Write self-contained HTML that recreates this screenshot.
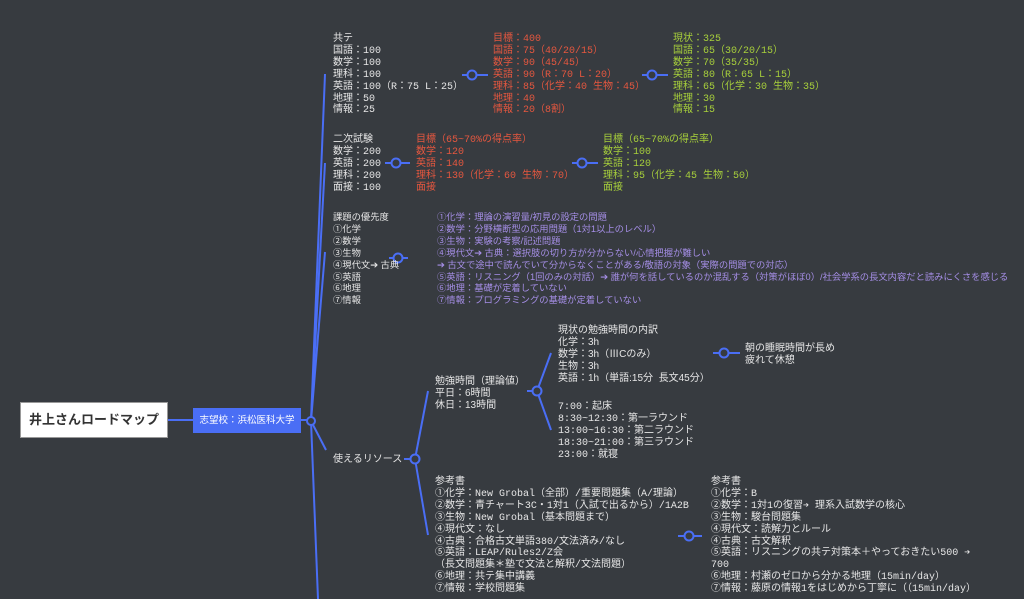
<!DOCTYPE html>
<html><head><meta charset="utf-8"><style>
html,body{margin:0;padding:0}
body{width:1024px;height:599px;background:#373b40;position:relative;overflow:hidden;font-family:"Liberation Mono","Noto Sans CJK JP",monospace;font-size:10px;line-height:11.9px;color:#e6e6e6}
.t{position:absolute;white-space:pre;margin-top:2px}
.s{font-family:"Liberation Sans","Noto Sans CJK JP",sans-serif;font-size:10px}
.r{color:#e5573f}.g{color:#a7cf3b}.p{color:#a58ee6}
svg{position:absolute;left:0;top:0}
</style></head><body>
<svg width="1024" height="599">
<g stroke="#4a6ef5" stroke-width="2" fill="none">
<line x1="168" y1="420" x2="193" y2="420"/>
<line x1="300" y1="420" x2="307" y2="420"/>
<line x1="311" y1="421" x2="325" y2="74"/>
<line x1="311" y1="421" x2="325" y2="163"/>
<line x1="311" y1="421" x2="325" y2="252"/>
<line x1="311" y1="421" x2="326" y2="450"/>
<line x1="311" y1="421" x2="318" y2="599"/>
<circle cx="311" cy="421" r="4" fill="#373b40"/>
<line x1="462" y1="75" x2="488" y2="75"/><circle cx="472" cy="75" r="4.5" fill="#373b40"/>
<line x1="642" y1="75" x2="668" y2="75"/><circle cx="652" cy="75" r="4.5" fill="#373b40"/>
<line x1="385" y1="163" x2="410" y2="163"/><circle cx="396" cy="163" r="4.5" fill="#373b40"/>
<line x1="572" y1="163" x2="598" y2="163"/><circle cx="582" cy="163" r="4.5" fill="#373b40"/>
<line x1="389" y1="258" x2="408" y2="258"/><circle cx="398" cy="258" r="4.5" fill="#373b40"/>
<line x1="404" y1="459" x2="411" y2="459"/>
<line x1="415" y1="459" x2="428" y2="391"/><line x1="415" y1="459" x2="428" y2="535"/>
<circle cx="415" cy="459" r="4.5" fill="#373b40"/>
<line x1="527" y1="391" x2="533" y2="391"/>
<line x1="537" y1="391" x2="551" y2="353"/><line x1="537" y1="391" x2="551" y2="430"/>
<circle cx="537" cy="391" r="4.5" fill="#373b40"/>
<line x1="713" y1="353" x2="740" y2="353"/><circle cx="724" cy="353" r="4.5" fill="#373b40"/>
<line x1="678" y1="536" x2="702" y2="536"/><circle cx="689" cy="536" r="4.5" fill="#373b40"/>
</g></svg>

<div class="t" style="left:20px;top:402px;margin:0;width:148px;height:36px;background:#fff;border:1px solid #999;box-sizing:border-box;color:#333;font-family:'Liberation Sans','Noto Sans CJK JP',sans-serif;font-weight:bold;font-size:13px;line-height:34px;text-align:center">井上さんロードマップ</div>
<div class="t" style="left:193px;top:408px;margin:0;width:108px;height:25px;background:#4a6ef5;color:#fff;font-family:'Liberation Sans','Noto Sans CJK JP',sans-serif;font-size:9.5px;line-height:25px;text-align:center">志望校：浜松医科大学</div>

<div class="t" style="left:333px;top:32px">共テ
国語：100
数学：100
理科：100
英語：100（R：75 L：25）
地理：50
情報：25</div>
<div class="t r" style="left:493px;top:32px">目標：400
国語：75（40/20/15）
数学：90（45/45）
英語：90（R：70 L：20）
理科：85（化学：40 生物：45）
地理：40
情報：20（8割）</div>
<div class="t g" style="left:673px;top:32px">現状：325
国語：65（30/20/15）
数学：70（35/35）
英語：80（R：65 L：15）
理科：65（化学：30 生物：35）
地理：30
情報：15</div>

<div class="t" style="left:333px;top:133px">二次試験
数学：200
英語：200
理科：200
面接：100</div>
<div class="t r" style="left:416px;top:133px">目標（65~70%の得点率）
数学：120
英語：140
理科：130（化学：60 生物：70）
面接</div>
<div class="t g" style="left:603px;top:133px">目標（65~70%の得点率）
数学：100
英語：120
理科：95（化学：45 生物：50）
面接</div>

<div class="t s" style="left:333px;top:210px;font-size:9.3px">課題の優先度
①化学
②数学
③生物
④現代文➔ 古典
⑤英語
⑥地理
⑦情報</div>
<div class="t p s" style="left:437px;top:210px;font-size:9.3px">①化学：理論の演習量/初見の設定の問題
②数学：分野横断型の応用問題（1対1以上のレベル）
③生物：実験の考察/記述問題
④現代文➔ 古典：選択肢の切り方が分からない/心情把握が難しい
➔ 古文で途中で読んでいて分からなくことがある/敬語の対象（実際の問題での対応）
⑤英語：リスニング（1回のみの対話）➔ 誰が何を話しているのか混乱する（対策がほぼ0）/社会学系の長文内容だと読みにくさを感じる
⑥地理：基礎が定着していない
⑦情報：プログラミングの基礎が定着していない</div>

<div class="t s" style="left:333px;top:452px">使えるリソース</div>
<div class="t s" style="left:435px;top:374px">勉強時間（理論値）
平日：6時間
休日：13時間</div>
<div class="t s" style="left:558px;top:323px">現状の勉強時間の内訳
化学：3h
数学：3h（ⅢCのみ）
生物：3h
英語：1h（単語:15分  長文45分）</div>
<div class="t s" style="left:745px;top:341px">朝の睡眠時間が長め
疲れて休憩</div>
<div class="t" style="left:558px;top:400px">7:00：起床
8:30~12:30：第一ラウンド
13:00~16:30：第二ラウンド
18:30~21:00：第三ラウンド
23:00：就寝</div>

<div class="t" style="left:435px;top:475px">参考書
①化学：New Grobal（全部）/重要問題集（A/理論）
②数学：青チャート3C・1対1（入試で出るから）/1A2B
③生物：New Grobal（基本問題まで）
④現代文：なし
④古典：合格古文単語380/文法済み/なし
⑤英語：LEAP/Rules2/Z会
（長文問題集＊塾で文法と解釈/文法問題）
⑥地理：共テ集中講義
⑦情報：学校問題集</div>
<div class="t" style="left:711px;top:475px">参考書
①化学：B
②数学：1対1の復習➔ 理系入試数学の核心
③生物：駿台問題集
④現代文：読解力とルール
④古典：古文解釈
⑤英語：リスニングの共テ対策本＋やっておきたい500 ➔
700
⑥地理：村瀬のゼロから分かる地理（15min/day）
⑦情報：藤原の情報1をはじめから丁寧に（（15min/day）</div>
</body></html>
